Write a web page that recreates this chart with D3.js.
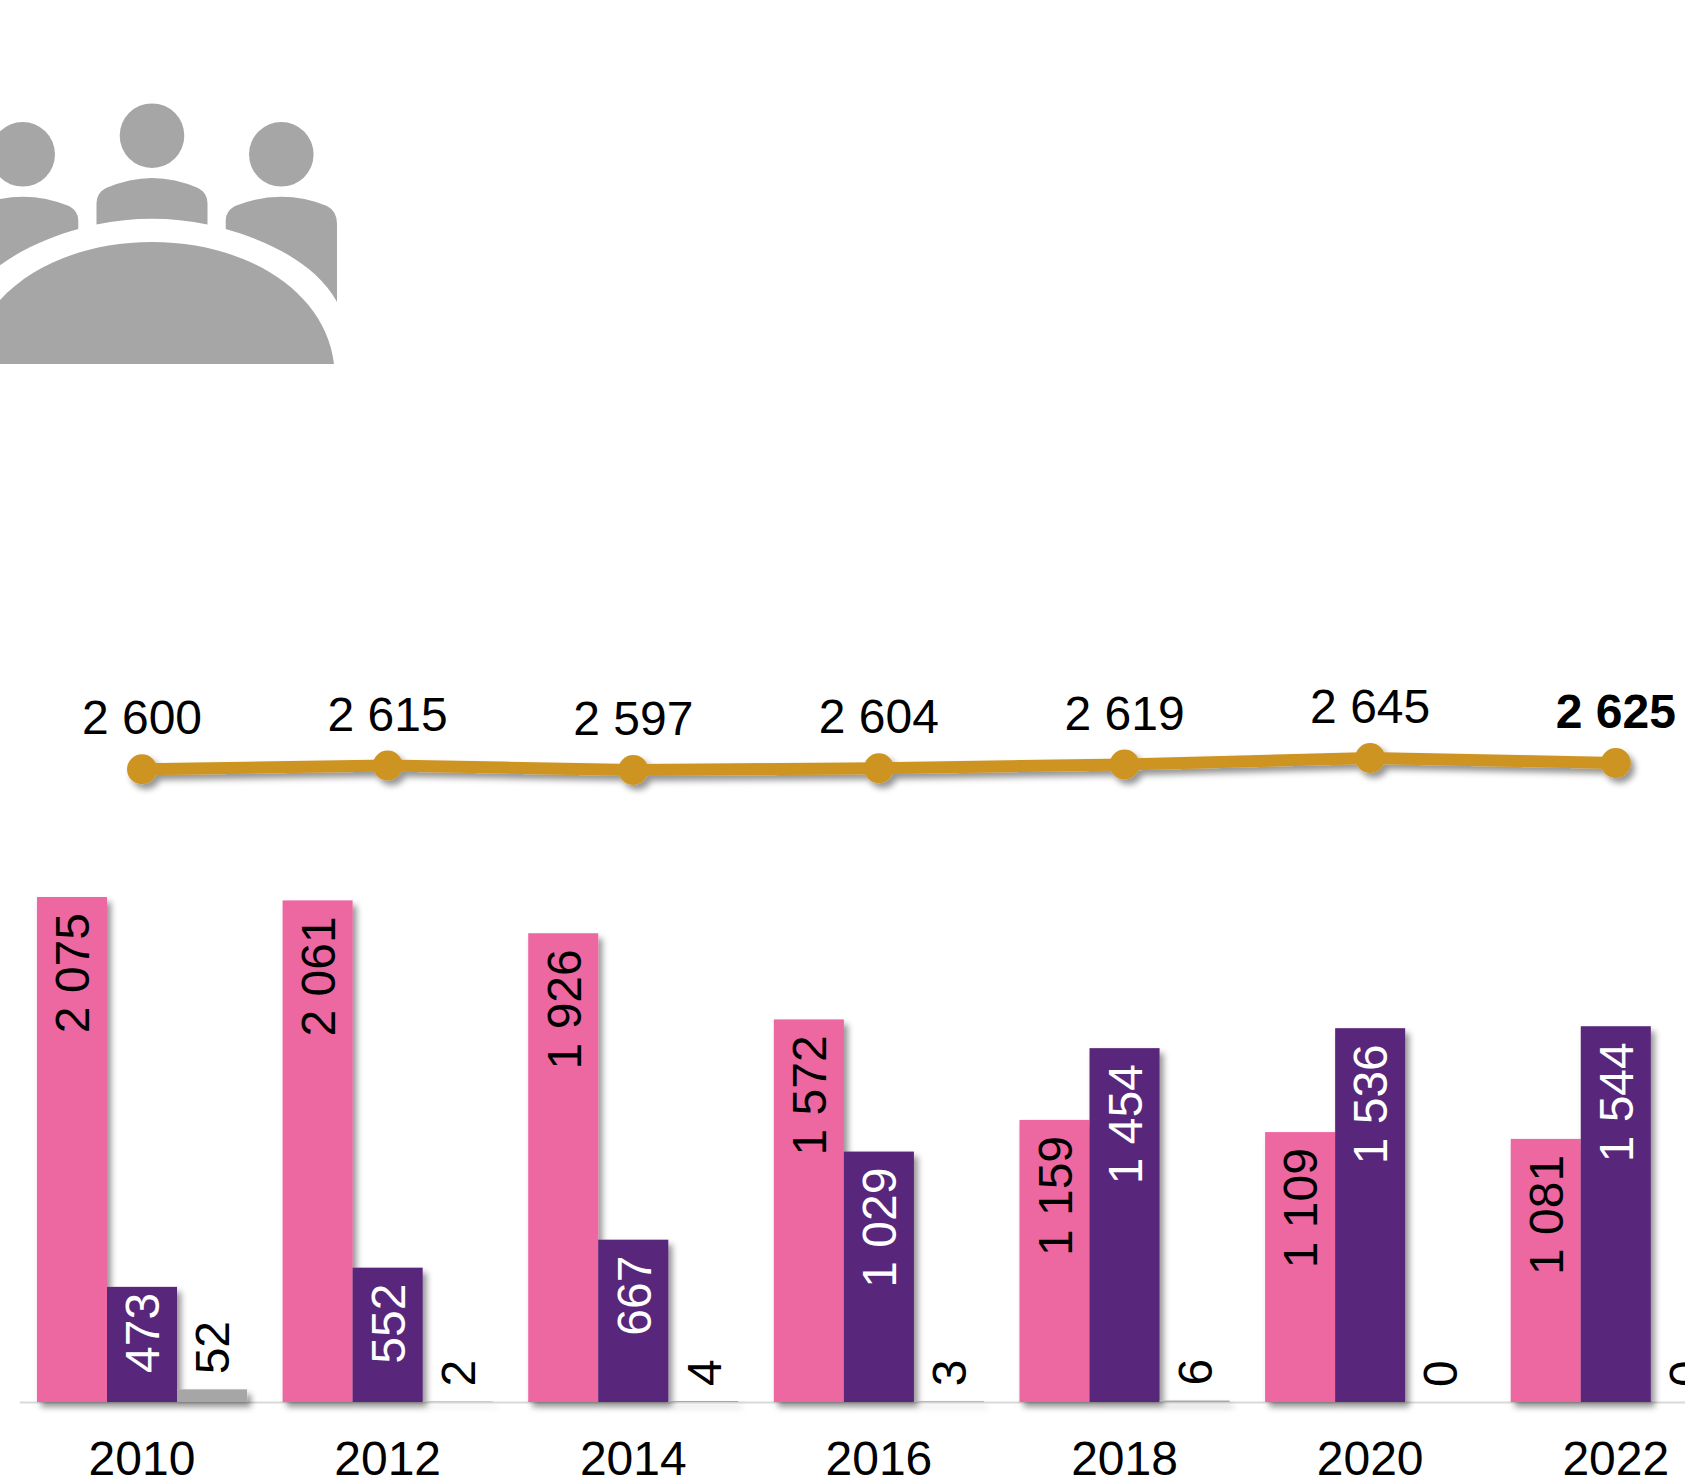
<!DOCTYPE html>
<html>
<head>
<meta charset="utf-8">
<title>Chart</title>
<script src="https://cdn.jsdelivr.net/npm/d3@7"></script>
<style>
  html, body { margin: 0; padding: 0; background: #fff; overflow: hidden; }
  svg { display: block; }
  text { font-family: "Liberation Sans", Arial, sans-serif; }
</style>
</head>
<body>
<div id="chart"></div>
<script>
(function () {
  'use strict';

  const YEARS = ['2010', '2012', '2014', '2016', '2018', '2020', '2022'];
  const SERIES = ['pink', 'purple', 'grey'];
  const PINK = [2075, 2061, 1926, 1572, 1159, 1109, 1081];
  const PURPLE = [473, 552, 667, 1029, 1454, 1536, 1544];
  const GREY = [52, 2, 4, 3, 6, 0, 0];
  const TOTAL = [2600, 2615, 2597, 2604, 2619, 2645, 2625];

  const COLORS = { pink: '#ED67A1', purple: '#59287A', grey: '#A6A6A6' };
  const LABEL_COLORS = { pink: '#000', purple: '#fff', grey: '#000' };
  const GOLD = '#CD9423';
  const FONT = 48;

  const width = 1685, height = 1484;
  const fmt = d3.formatLocale({ decimal: ',', thousands: ' ', grouping: [3], currency: ['', ''] }).format(',d');

  const svg = d3.select('#chart').append('svg')
    .attr('width', width).attr('height', height)
    .attr('viewBox', `0 0 ${width} ${height}`);

  // Soft offset shadow, same on bars and line
  const defs = svg.append('defs');
  const shadow = defs.append('filter').attr('id', 'shadow')
    .attr('filterUnits', 'userSpaceOnUse')
    .attr('x', 0).attr('y', 0).attr('width', width).attr('height', height);
  shadow.append('feDropShadow')
    .attr('dx', 4).attr('dy', 5).attr('stdDeviation', 3)
    .attr('flood-color', '#000').attr('flood-opacity', 0.42);

  // --- Scales ---
  const x0 = d3.scaleBand().domain(YEARS).range([19.2, 1738.6]).paddingInner(0.1446).paddingOuter(0.0723);
  const x1 = d3.scaleBand().domain(SERIES).range([0, x0.bandwidth()]);
  const y = d3.scaleLinear().domain([0, 2075]).range([1402, 897]);
  const yTotal = d3.scaleLinear().domain([2597, 2645]).range([770, 758]);

  // --- Icon (people round a table) ---
  const icon = svg.append('g').attr('fill', '#A6A6A6');
  [[22.7, 154.3], [152, 135.7], [281.3, 154.3]].forEach(([cx, cy]) => {
    icon.append('circle').attr('cx', cx).attr('cy', cy).attr('r', 32.3);
  });
  icon.append('path').attr('d', 'M334,364 C325,290 245,242 152,242 C59,242 -21,290 -30,364 Z');
  icon.append('path').attr('d', 'M96.5,224.5 L96.5,203 Q96.5,193 106,188 Q130,178 152,178 Q175,178 198,188 Q207.5,193 207.5,203 L207.5,224.5 Q152,213 96.5,224.5 Z');
  const side = 'M225.7,229 L225.7,220 Q226,211 235,206 Q258,196.7 281,196.7 Q305,196.7 327,206 Q337,211 337,224 L337,302 C315,262 265,240 225.7,229 Z';
  icon.append('path').attr('d', side);
  icon.append('path').attr('d', side).attr('transform', 'translate(304,0) scale(-1,1)');

  // --- Axis ---
  const axis = svg.append('g')
    .attr('transform', `translate(0,${y(0)})`)
    .call(d3.axisBottom(x0).tickSize(0).tickPadding(39));
  axis.select('.domain').attr('stroke', '#D9D9D9').attr('stroke-width', 2);
  axis.selectAll('text')
    .attr('font-family', '"Liberation Sans", Arial, sans-serif')
    .attr('font-size', FONT).attr('fill', '#000');

  // --- Bars ---
  const rows = [];
  YEARS.forEach((year, i) => {
    rows.push({ year, key: 'pink', value: PINK[i] });
    rows.push({ year, key: 'purple', value: PURPLE[i] });
    rows.push({ year, key: 'grey', value: GREY[i] });
  });
  const barX = (d) => x0(d.year) + x1(d.key);

  svg.append('g').attr('filter', 'url(#shadow)')
    .selectAll('rect').data(rows).join('rect')
    .attr('x', barX)
    .attr('y', (d) => y(d.value))
    .attr('width', x1.bandwidth())
    .attr('height', (d) => y(0) - y(d.value))
    .attr('fill', (d) => COLORS[d.key]);

  // Bar labels: inside the end, except grey which sits above the bar
  svg.append('g').selectAll('text').data(rows).join('text')
    .attr('transform', (d) => {
      const cx = barX(d) + x1.bandwidth() / 2;
      const inset = d.value < 500 && d.key === 'purple' ? 6 : 16;
      const py = d.key === 'grey' ? y(d.value) - 15 : y(d.value) + inset;
      return `translate(${cx},${py}) rotate(-90)`;
    })
    .attr('text-anchor', (d) => (d.key === 'grey' ? 'start' : 'end'))
    .attr('dy', '0.36em')
    .attr('font-size', FONT)
    .attr('fill', (d) => LABEL_COLORS[d.key])
    .text((d) => fmt(d.value));

  // --- Total line ---
  const cx = (year) => x0(year) + x0.bandwidth() / 2;
  const line = d3.line().x((d, i) => cx(YEARS[i])).y((d) => yTotal(d));
  const lineG = svg.append('g').attr('filter', 'url(#shadow)');
  lineG.append('path').datum(TOTAL)
    .attr('d', line).attr('fill', 'none')
    .attr('stroke', GOLD).attr('stroke-width', 12);
  lineG.selectAll('circle').data(TOTAL).join('circle')
    .attr('cx', (d, i) => cx(YEARS[i]))
    .attr('cy', (d) => yTotal(d))
    .attr('r', 15)
    .attr('fill', GOLD);

  svg.append('g').selectAll('text').data(TOTAL).join('text')
    .attr('x', (d, i) => cx(YEARS[i]))
    .attr('y', (d) => yTotal(d) - 35)
    .attr('text-anchor', 'middle')
    .attr('font-size', FONT)
    .attr('font-weight', (d, i) => (i === TOTAL.length - 1 ? 700 : 400))
    .attr('fill', '#000')
    .text((d) => fmt(d));
})();
</script>
</body>
</html>
